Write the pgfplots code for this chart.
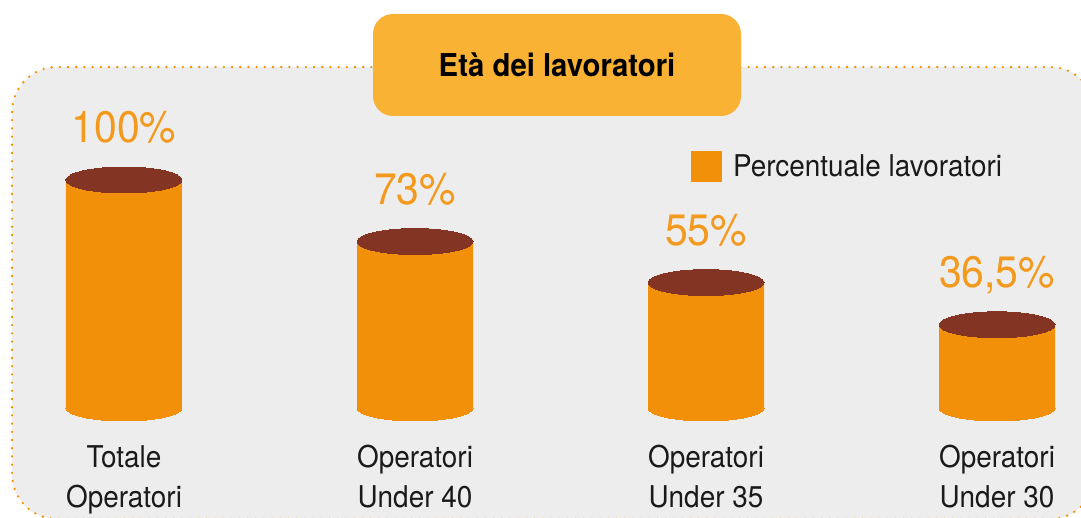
\documentclass[border=0pt]{standalone}
\usepackage{fontspec}
\setmainfont{TeX Gyre Heros}[FakeStretch=0.93]
\usepackage{pgfplots}
\pgfplotsset{compat=1.18}
\definecolor{barorange}{HTML}{F29109}
\definecolor{valorange}{HTML}{F39A1E}
\definecolor{topbrown}{HTML}{833422}
\definecolor{titleorange}{HTML}{F9B233}
\definecolor{bggray}{HTML}{EDEDED}
\definecolor{dotorange}{HTML}{F39200}
\definecolor{textblack}{HTML}{1A1A1A}
\newcommand\valfont{\fontsize{44}{50}\selectfont}
\newcommand\catfont{\fontsize{30}{40}\selectfont}
\newcommand\legfont{\fontsize{30}{36}\selectfont}
\newcommand\titlefont{\fontsize{31.5}{38}\selectfont\bfseries}
\begin{document}
\begin{tikzpicture}
\begin{scope}[x=1pt,y=-1pt]
\fill[bggray, rounded corners=45pt] (12,67) rectangle (1095,519);
\draw[dotorange, line width=2.6pt, line cap=round, dash pattern=on 0pt off 8.2pt, rounded corners=45pt] (12,67) rectangle (1095,519);
\end{scope}
\begin{axis}[at={(0pt,-408pt)}, anchor=south west, scale only axis,
  width=1081pt, height=228pt,
  xmin=-0.4261, xmax=3.2887, ymin=0, ymax=100,
  clip=false,
  axis line style={draw=none}, tick style={draw=none},
  ytick=\empty, xtick={0,1,2,3},
  xticklabels={{Totale\\Operatori},{Operatori\\Under 40},{Operatori\\Under 35},{Operatori\\Under 30}},
  xticklabel style={font=\catfont, text=textblack, align=center, anchor=north, inner sep=0pt, yshift=-37pt},
  legend style={at={(axis cs:1.9485,105.92)}, anchor=west, draw=none, fill=none, inner sep=0pt, outer sep=0pt,
    font=\legfont, text=textblack, column sep=11pt, nodes={inner sep=0pt}},
  legend cell align=left,
]
\addplot[ybar, bar width=116pt, fill=barorange, draw=none,
  legend image code/.code={\fill[barorange] (0pt,-15.5pt) rectangle (31pt,15.5pt);}]
  coordinates {(0,100) (1,73) (2,55) (3,36.5)};
\addlegendentry{Percentuale lavoratori}
\addplot[color=barorange, only marks, mark=*, mark size=58pt, mark options={yscale=0.224, fill=barorange, draw=barorange, line width=0pt}, forget plot]
  coordinates {(0,0) (1,0) (2,0) (3,0)};
\addplot[color=topbrown, only marks, mark=*, mark size=58pt, mark options={yscale=0.224, fill=topbrown, draw=topbrown, line width=0pt}, forget plot,
  point meta=explicit symbolic, nodes near coords,
  every node near coord/.append style={anchor=base, yshift=37pt, inner sep=0pt, font=\valfont, text=valorange}]
  coordinates {(0,100) [100\%] (1,73) [73\%] (2,55) [55\%] (3,36.5) [36,5\%]};
\end{axis}
\fill[titleorange, rounded corners=20pt] (373pt,-14pt) rectangle (741pt,-116pt);
\node[font=\titlefont, text=black, inner sep=0pt] at (557pt,-65pt) {Età dei lavoratori};
\pgfresetboundingbox
\path (0,0) rectangle (1081pt,-518pt);
\end{tikzpicture}
\end{document}
